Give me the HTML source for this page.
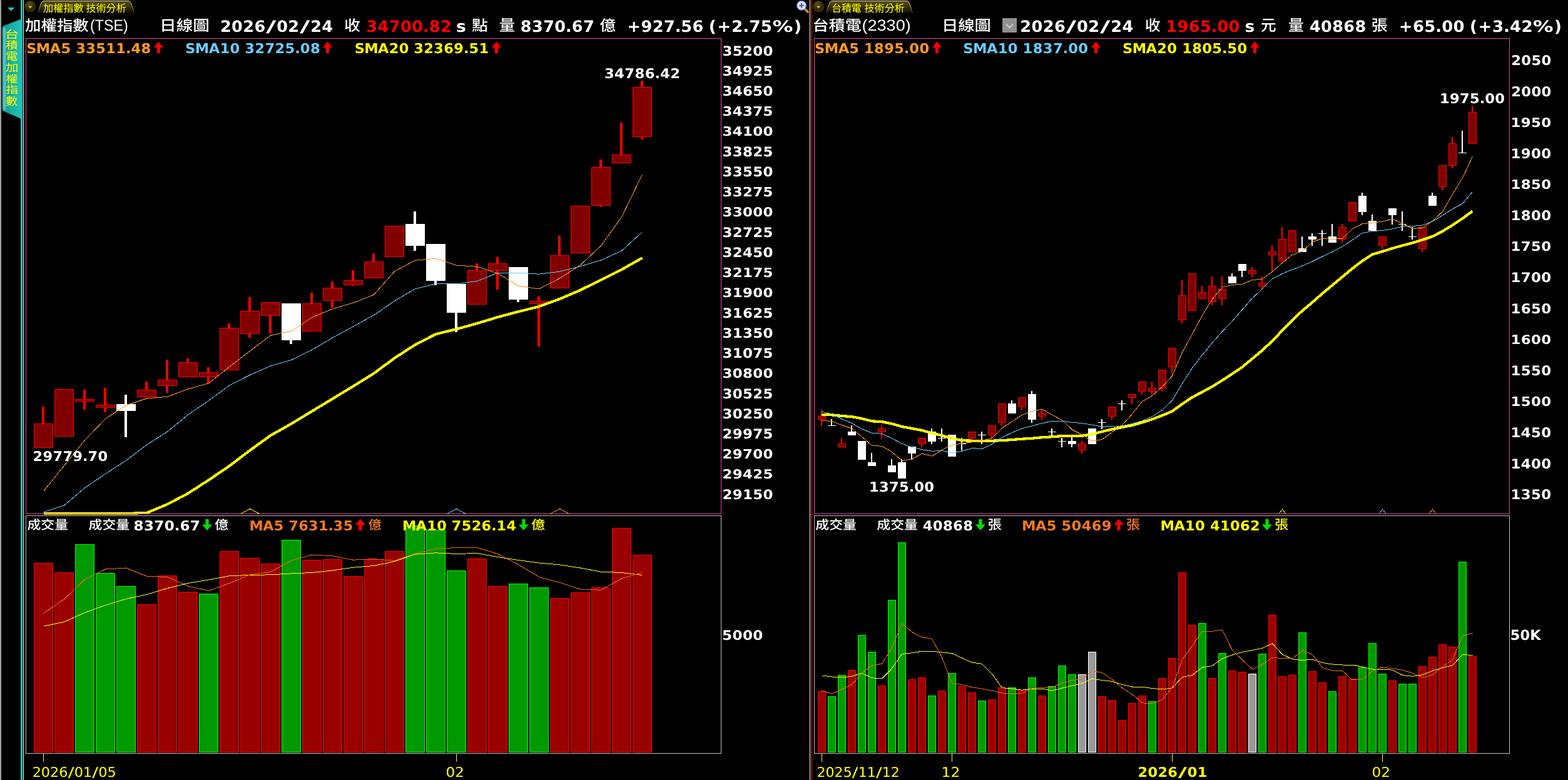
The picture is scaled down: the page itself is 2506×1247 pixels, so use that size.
<!DOCTYPE html>
<html lang="zh-Hant"><head><meta charset="utf-8"><title>技術分析</title><style>html,body{margin:0;padding:0;background:#000;overflow:hidden}svg{display:block}</style></head><body><svg width="2506" height="1247" viewBox="0 0 2506 1247"><defs><linearGradient id="tabg" x1="0" y1="0" x2="0" y2="1"><stop offset="0" stop-color="#5a5200"/><stop offset="0.45" stop-color="#3c3700"/><stop offset="1" stop-color="#0a0900"/></linearGradient><linearGradient id="tabs" x1="0" y1="0" x2="0" y2="1"><stop offset="0" stop-color="#d8d8d8"/><stop offset="0.5" stop-color="#a0a0a0"/><stop offset="1" stop-color="#303030"/></linearGradient><radialGradient id="btng" cx="0.4" cy="0.3" r="0.8"><stop offset="0" stop-color="#5a5210"/><stop offset="0.6" stop-color="#2c2800"/><stop offset="1" stop-color="#3a3400"/></radialGradient><linearGradient id="sideg" x1="0" y1="0" x2="1" y2="0"><stop offset="0" stop-color="#139890"/><stop offset="0.5" stop-color="#1aaea6"/><stop offset="1" stop-color="#20c0b8"/></linearGradient><clipPath id="cl0"><rect x="42" y="62" width="1110" height="760"/></clipPath><clipPath id="cl1260"><rect x="1302" y="62" width="1110" height="760"/></clipPath></defs><rect width="100%" height="100%" fill="#000"/><g shape-rendering="crispEdges"><rect x="67" y="650" width="4" height="66" fill="#ff0000"/><rect x="54" y="677" width="31" height="39" fill="#ff0000"/><rect x="55" y="678" width="29" height="37" fill="#800000"/><rect x="100" y="622" width="4" height="76" fill="#ff0000"/><rect x="87" y="622" width="31" height="76" fill="#ff0000"/><rect x="88" y="623" width="29" height="74" fill="#800000"/><rect x="133" y="623" width="4" height="32" fill="#ff0000"/><rect x="120" y="638" width="31" height="4" fill="#ff0000"/><rect x="121" y="639" width="29" height="2" fill="#800000"/><rect x="166" y="620" width="4" height="39" fill="#ff0000"/><rect x="153" y="647" width="31" height="5" fill="#ff0000"/><rect x="154" y="648" width="29" height="3" fill="#800000"/><rect x="199" y="631" width="4" height="68" fill="#ffffff"/><rect x="186" y="646" width="31" height="11" fill="#ffffff"/><rect x="232" y="610" width="4" height="25" fill="#ff0000"/><rect x="219" y="623" width="31" height="12" fill="#ff0000"/><rect x="220" y="624" width="29" height="10" fill="#800000"/><rect x="265" y="575" width="4" height="53" fill="#ff0000"/><rect x="252" y="607" width="31" height="10" fill="#ff0000"/><rect x="253" y="608" width="29" height="8" fill="#800000"/><rect x="298" y="573" width="4" height="30" fill="#ff0000"/><rect x="285" y="579" width="31" height="24" fill="#ff0000"/><rect x="286" y="580" width="29" height="22" fill="#800000"/><rect x="331" y="587" width="4" height="26" fill="#ff0000"/><rect x="318" y="595" width="31" height="8" fill="#ff0000"/><rect x="319" y="596" width="29" height="6" fill="#800000"/><rect x="364" y="517" width="4" height="75" fill="#ff0000"/><rect x="351" y="524" width="31" height="68" fill="#ff0000"/><rect x="352" y="525" width="29" height="66" fill="#800000"/><rect x="397" y="475" width="4" height="65" fill="#ff0000"/><rect x="384" y="497" width="31" height="37" fill="#ff0000"/><rect x="385" y="498" width="29" height="35" fill="#800000"/><rect x="430" y="483" width="4" height="50" fill="#ff0000"/><rect x="417" y="483" width="31" height="22" fill="#ff0000"/><rect x="418" y="484" width="29" height="20" fill="#800000"/><rect x="463" y="485" width="4" height="65" fill="#ffffff"/><rect x="450" y="485" width="31" height="59" fill="#ffffff"/><rect x="496" y="468" width="4" height="62" fill="#ff0000"/><rect x="483" y="485" width="31" height="45" fill="#ff0000"/><rect x="484" y="486" width="29" height="43" fill="#800000"/><rect x="529" y="450" width="4" height="42" fill="#ff0000"/><rect x="516" y="460" width="31" height="21" fill="#ff0000"/><rect x="517" y="461" width="29" height="19" fill="#800000"/><rect x="562" y="432" width="4" height="25" fill="#ff0000"/><rect x="549" y="448" width="31" height="8" fill="#ff0000"/><rect x="550" y="449" width="29" height="6" fill="#800000"/><rect x="595" y="405" width="4" height="40" fill="#ff0000"/><rect x="582" y="418" width="31" height="27" fill="#ff0000"/><rect x="583" y="419" width="29" height="25" fill="#800000"/><rect x="628" y="361" width="4" height="50" fill="#ff0000"/><rect x="615" y="361" width="31" height="50" fill="#ff0000"/><rect x="616" y="362" width="29" height="48" fill="#800000"/><rect x="661" y="338" width="4" height="63" fill="#ffffff"/><rect x="648" y="358" width="31" height="35" fill="#ffffff"/><rect x="694" y="390" width="4" height="66" fill="#ffffff"/><rect x="681" y="390" width="31" height="59" fill="#ffffff"/><rect x="727" y="454" width="4" height="77" fill="#ffffff"/><rect x="714" y="454" width="31" height="46" fill="#ffffff"/><rect x="760" y="421" width="4" height="66" fill="#ff0000"/><rect x="747" y="432" width="31" height="55" fill="#ff0000"/><rect x="748" y="433" width="29" height="53" fill="#800000"/><rect x="793" y="411" width="4" height="52" fill="#ff0000"/><rect x="780" y="421" width="31" height="12" fill="#ff0000"/><rect x="781" y="422" width="29" height="10" fill="#800000"/><rect x="826" y="427" width="4" height="56" fill="#ffffff"/><rect x="813" y="427" width="31" height="52" fill="#ffffff"/><rect x="859" y="474" width="4" height="80" fill="#ff0000"/><rect x="846" y="481" width="31" height="5" fill="#ff0000"/><rect x="847" y="482" width="29" height="3" fill="#800000"/><rect x="892" y="377" width="4" height="84" fill="#ff0000"/><rect x="879" y="408" width="31" height="53" fill="#ff0000"/><rect x="880" y="409" width="29" height="51" fill="#800000"/><rect x="925" y="329" width="4" height="76" fill="#ff0000"/><rect x="912" y="329" width="31" height="76" fill="#ff0000"/><rect x="913" y="330" width="29" height="74" fill="#800000"/><rect x="958" y="255" width="4" height="76" fill="#ff0000"/><rect x="945" y="267" width="31" height="62" fill="#ff0000"/><rect x="946" y="268" width="29" height="60" fill="#800000"/><rect x="991" y="196" width="4" height="65" fill="#ff0000"/><rect x="978" y="247" width="31" height="14" fill="#ff0000"/><rect x="979" y="248" width="29" height="12" fill="#800000"/><rect x="1024" y="129" width="4" height="94" fill="#ff0000"/><rect x="1011" y="139" width="31" height="80" fill="#ff0000"/><rect x="1012" y="140" width="29" height="78" fill="#800000"/><rect x="54" y="900" width="31" height="303" fill="#ff0000"/><rect x="55" y="901" width="29" height="301" fill="#990000"/><rect x="87" y="915" width="31" height="288" fill="#ff0000"/><rect x="88" y="916" width="29" height="286" fill="#990000"/><rect x="120" y="870" width="31" height="333" fill="#00ff00"/><rect x="121" y="871" width="29" height="331" fill="#009900"/><rect x="153" y="916" width="31" height="287" fill="#00ff00"/><rect x="154" y="917" width="29" height="285" fill="#009900"/><rect x="186" y="937" width="31" height="266" fill="#00ff00"/><rect x="187" y="938" width="29" height="264" fill="#009900"/><rect x="219" y="966" width="31" height="237" fill="#ff0000"/><rect x="220" y="967" width="29" height="235" fill="#990000"/><rect x="252" y="920" width="31" height="283" fill="#ff0000"/><rect x="253" y="921" width="29" height="281" fill="#990000"/><rect x="285" y="946" width="31" height="257" fill="#ff0000"/><rect x="286" y="947" width="29" height="255" fill="#990000"/><rect x="318" y="949" width="31" height="254" fill="#00ff00"/><rect x="319" y="950" width="29" height="252" fill="#009900"/><rect x="351" y="881" width="31" height="322" fill="#ff0000"/><rect x="352" y="882" width="29" height="320" fill="#990000"/><rect x="384" y="892" width="31" height="311" fill="#ff0000"/><rect x="385" y="893" width="29" height="309" fill="#990000"/><rect x="417" y="901" width="31" height="302" fill="#ff0000"/><rect x="418" y="902" width="29" height="300" fill="#990000"/><rect x="450" y="863" width="31" height="340" fill="#00ff00"/><rect x="451" y="864" width="29" height="338" fill="#009900"/><rect x="483" y="895" width="31" height="308" fill="#ff0000"/><rect x="484" y="896" width="29" height="306" fill="#990000"/><rect x="516" y="894" width="31" height="309" fill="#ff0000"/><rect x="517" y="895" width="29" height="307" fill="#990000"/><rect x="549" y="921" width="31" height="282" fill="#ff0000"/><rect x="550" y="922" width="29" height="280" fill="#990000"/><rect x="582" y="894" width="31" height="309" fill="#ff0000"/><rect x="583" y="895" width="29" height="307" fill="#990000"/><rect x="615" y="881" width="31" height="322" fill="#ff0000"/><rect x="616" y="882" width="29" height="320" fill="#990000"/><rect x="648" y="840" width="31" height="363" fill="#00ff00"/><rect x="649" y="841" width="29" height="361" fill="#009900"/><rect x="681" y="847" width="31" height="356" fill="#00ff00"/><rect x="682" y="848" width="29" height="354" fill="#009900"/><rect x="714" y="912" width="31" height="291" fill="#00ff00"/><rect x="715" y="913" width="29" height="289" fill="#009900"/><rect x="747" y="893" width="31" height="310" fill="#ff0000"/><rect x="748" y="894" width="29" height="308" fill="#990000"/><rect x="780" y="937" width="31" height="266" fill="#ff0000"/><rect x="781" y="938" width="29" height="264" fill="#990000"/><rect x="813" y="933" width="31" height="270" fill="#00ff00"/><rect x="814" y="934" width="29" height="268" fill="#009900"/><rect x="846" y="939" width="31" height="264" fill="#00ff00"/><rect x="847" y="940" width="29" height="262" fill="#009900"/><rect x="879" y="956" width="31" height="247" fill="#ff0000"/><rect x="880" y="957" width="29" height="245" fill="#990000"/><rect x="912" y="947" width="31" height="256" fill="#ff0000"/><rect x="913" y="948" width="29" height="254" fill="#990000"/><rect x="945" y="939" width="31" height="264" fill="#ff0000"/><rect x="946" y="940" width="29" height="262" fill="#990000"/><rect x="978" y="844" width="31" height="359" fill="#ff0000"/><rect x="979" y="845" width="29" height="357" fill="#990000"/><rect x="1011" y="887" width="31" height="316" fill="#ff0000"/><rect x="1012" y="888" width="29" height="314" fill="#990000"/><rect x="1312" y="655" width="2" height="26" fill="#ff0000"/><rect x="1307" y="665" width="13" height="6" fill="#ff0000"/><rect x="1308" y="666" width="11" height="4" fill="#800000"/><rect x="1328" y="670" width="2" height="11" fill="#ffffff"/><rect x="1323" y="680" width="13" height="1" fill="#ffffff"/><rect x="1344" y="700" width="2" height="15" fill="#ff0000"/><rect x="1339" y="709" width="13" height="6" fill="#ff0000"/><rect x="1340" y="710" width="11" height="4" fill="#800000"/><rect x="1360" y="680" width="2" height="16" fill="#ffffff"/><rect x="1355" y="690" width="13" height="6" fill="#ffffff"/><rect x="1376" y="705" width="2" height="30" fill="#ffffff"/><rect x="1371" y="705" width="13" height="30" fill="#ffffff"/><rect x="1392" y="724" width="2" height="21" fill="#ffffff"/><rect x="1387" y="739" width="13" height="6" fill="#ffffff"/><rect x="1408" y="680" width="2" height="21" fill="#ff0000"/><rect x="1403" y="685" width="13" height="6" fill="#ff0000"/><rect x="1404" y="686" width="11" height="4" fill="#800000"/><rect x="1424" y="734" width="2" height="21" fill="#ffffff"/><rect x="1419" y="744" width="13" height="11" fill="#ffffff"/><rect x="1440" y="734" width="2" height="31" fill="#ffffff"/><rect x="1435" y="739" width="13" height="26" fill="#ffffff"/><rect x="1456" y="714" width="2" height="20" fill="#ffffff"/><rect x="1451" y="714" width="13" height="11" fill="#ffffff"/><rect x="1472" y="700" width="2" height="15" fill="#ff0000"/><rect x="1467" y="700" width="13" height="10" fill="#ff0000"/><rect x="1468" y="701" width="11" height="8" fill="#800000"/><rect x="1488" y="685" width="2" height="25" fill="#ffffff"/><rect x="1483" y="690" width="13" height="16" fill="#ffffff"/><rect x="1504" y="685" width="2" height="21" fill="#ffffff"/><rect x="1499" y="700" width="13" height="1" fill="#ffffff"/><rect x="1520" y="695" width="2" height="35" fill="#ffffff"/><rect x="1515" y="695" width="13" height="35" fill="#ffffff"/><rect x="1536" y="700" width="2" height="20" fill="#ffffff"/><rect x="1531" y="709" width="13" height="1" fill="#ffffff"/><rect x="1552" y="690" width="2" height="13" fill="#ff0000"/><rect x="1547" y="690" width="13" height="11" fill="#ff0000"/><rect x="1548" y="691" width="11" height="9" fill="#800000"/><rect x="1568" y="690" width="2" height="20" fill="#ffffff"/><rect x="1563" y="695" width="13" height="1" fill="#ffffff"/><rect x="1584" y="680" width="2" height="21" fill="#ff0000"/><rect x="1579" y="680" width="13" height="16" fill="#ff0000"/><rect x="1580" y="681" width="11" height="14" fill="#800000"/><rect x="1600" y="645" width="2" height="36" fill="#ff0000"/><rect x="1595" y="645" width="13" height="31" fill="#ff0000"/><rect x="1596" y="646" width="11" height="29" fill="#800000"/><rect x="1616" y="640" width="2" height="21" fill="#ffffff"/><rect x="1611" y="645" width="13" height="16" fill="#ffffff"/><rect x="1632" y="635" width="2" height="21" fill="#ff0000"/><rect x="1627" y="635" width="13" height="16" fill="#ff0000"/><rect x="1628" y="636" width="11" height="14" fill="#800000"/><rect x="1648" y="625" width="2" height="51" fill="#ffffff"/><rect x="1643" y="630" width="13" height="41" fill="#ffffff"/><rect x="1664" y="655" width="2" height="16" fill="#ff0000"/><rect x="1659" y="660" width="13" height="6" fill="#ff0000"/><rect x="1660" y="661" width="11" height="4" fill="#800000"/><rect x="1680" y="685" width="2" height="11" fill="#ffffff"/><rect x="1675" y="690" width="13" height="1" fill="#ffffff"/><rect x="1696" y="700" width="2" height="15" fill="#ffffff"/><rect x="1691" y="705" width="13" height="1" fill="#ffffff"/><rect x="1712" y="698" width="2" height="17" fill="#ffffff"/><rect x="1707" y="705" width="13" height="5" fill="#ffffff"/><rect x="1728" y="705" width="2" height="20" fill="#ff0000"/><rect x="1723" y="709" width="13" height="11" fill="#ff0000"/><rect x="1724" y="710" width="11" height="9" fill="#800000"/><rect x="1744" y="685" width="2" height="25" fill="#ffffff"/><rect x="1739" y="685" width="13" height="25" fill="#ffffff"/><rect x="1760" y="670" width="2" height="16" fill="#ffffff"/><rect x="1755" y="675" width="13" height="1" fill="#ffffff"/><rect x="1776" y="650" width="2" height="21" fill="#ff0000"/><rect x="1771" y="650" width="13" height="16" fill="#ff0000"/><rect x="1772" y="651" width="11" height="14" fill="#800000"/><rect x="1792" y="640" width="2" height="16" fill="#ffffff"/><rect x="1787" y="645" width="13" height="1" fill="#ffffff"/><rect x="1808" y="630" width="2" height="16" fill="#ff0000"/><rect x="1803" y="630" width="13" height="6" fill="#ff0000"/><rect x="1804" y="631" width="11" height="4" fill="#800000"/><rect x="1824" y="610" width="2" height="21" fill="#ff0000"/><rect x="1819" y="610" width="13" height="16" fill="#ff0000"/><rect x="1820" y="611" width="11" height="14" fill="#800000"/><rect x="1840" y="610" width="2" height="21" fill="#ff0000"/><rect x="1835" y="620" width="13" height="6" fill="#ff0000"/><rect x="1836" y="621" width="11" height="4" fill="#800000"/><rect x="1856" y="591" width="2" height="35" fill="#ff0000"/><rect x="1851" y="591" width="13" height="30" fill="#ff0000"/><rect x="1852" y="592" width="11" height="28" fill="#800000"/><rect x="1872" y="556" width="2" height="41" fill="#ff0000"/><rect x="1867" y="556" width="13" height="31" fill="#ff0000"/><rect x="1868" y="557" width="11" height="29" fill="#800000"/><rect x="1888" y="447" width="2" height="70" fill="#ff0000"/><rect x="1883" y="472" width="13" height="40" fill="#ff0000"/><rect x="1884" y="473" width="11" height="38" fill="#800000"/><rect x="1904" y="437" width="2" height="60" fill="#ff0000"/><rect x="1899" y="437" width="13" height="60" fill="#ff0000"/><rect x="1900" y="438" width="11" height="58" fill="#800000"/><rect x="1920" y="457" width="2" height="21" fill="#ff0000"/><rect x="1915" y="467" width="13" height="11" fill="#ff0000"/><rect x="1916" y="468" width="11" height="9" fill="#800000"/><rect x="1936" y="442" width="2" height="46" fill="#ff0000"/><rect x="1931" y="457" width="13" height="26" fill="#ff0000"/><rect x="1932" y="458" width="11" height="24" fill="#800000"/><rect x="1952" y="442" width="2" height="46" fill="#ff0000"/><rect x="1947" y="462" width="13" height="16" fill="#ff0000"/><rect x="1948" y="463" width="11" height="14" fill="#800000"/><rect x="1968" y="437" width="2" height="16" fill="#ffffff"/><rect x="1963" y="442" width="13" height="11" fill="#ffffff"/><rect x="1984" y="422" width="2" height="21" fill="#ffffff"/><rect x="1979" y="422" width="13" height="11" fill="#ffffff"/><rect x="2000" y="427" width="2" height="16" fill="#ff0000"/><rect x="1995" y="432" width="13" height="6" fill="#ff0000"/><rect x="1996" y="433" width="11" height="4" fill="#800000"/><rect x="2016" y="442" width="2" height="21" fill="#ff0000"/><rect x="2011" y="452" width="13" height="6" fill="#ff0000"/><rect x="2012" y="453" width="11" height="4" fill="#800000"/><rect x="2032" y="392" width="2" height="41" fill="#ff0000"/><rect x="2027" y="402" width="13" height="6" fill="#ff0000"/><rect x="2028" y="403" width="11" height="4" fill="#800000"/><rect x="2048" y="363" width="2" height="55" fill="#ff0000"/><rect x="2043" y="382" width="13" height="36" fill="#ff0000"/><rect x="2044" y="383" width="11" height="34" fill="#800000"/><rect x="2064" y="368" width="2" height="35" fill="#ff0000"/><rect x="2059" y="368" width="13" height="35" fill="#ff0000"/><rect x="2060" y="369" width="11" height="33" fill="#800000"/><rect x="2080" y="378" width="2" height="25" fill="#ffffff"/><rect x="2075" y="397" width="13" height="6" fill="#ffffff"/><rect x="2096" y="373" width="2" height="20" fill="#ffffff"/><rect x="2091" y="378" width="13" height="5" fill="#ffffff"/><rect x="2112" y="368" width="2" height="25" fill="#ffffff"/><rect x="2107" y="373" width="13" height="1" fill="#ffffff"/><rect x="2128" y="358" width="2" height="30" fill="#ffffff"/><rect x="2123" y="378" width="13" height="10" fill="#ffffff"/><rect x="2144" y="358" width="2" height="30" fill="#ff0000"/><rect x="2139" y="363" width="13" height="20" fill="#ff0000"/><rect x="2140" y="364" width="11" height="18" fill="#800000"/><rect x="2160" y="323" width="2" height="31" fill="#ff0000"/><rect x="2155" y="323" width="13" height="31" fill="#ff0000"/><rect x="2156" y="324" width="11" height="29" fill="#800000"/><rect x="2176" y="308" width="2" height="36" fill="#ffffff"/><rect x="2171" y="313" width="13" height="26" fill="#ffffff"/><rect x="2192" y="343" width="2" height="26" fill="#ffffff"/><rect x="2187" y="353" width="13" height="16" fill="#ffffff"/><rect x="2208" y="378" width="2" height="20" fill="#ff0000"/><rect x="2203" y="378" width="13" height="15" fill="#ff0000"/><rect x="2204" y="379" width="11" height="13" fill="#800000"/><rect x="2224" y="333" width="2" height="26" fill="#ffffff"/><rect x="2219" y="333" width="13" height="11" fill="#ffffff"/><rect x="2240" y="338" width="2" height="31" fill="#ffffff"/><rect x="2235" y="358" width="13" height="1" fill="#ffffff"/><rect x="2256" y="363" width="2" height="20" fill="#ffffff"/><rect x="2251" y="378" width="13" height="1" fill="#ffffff"/><rect x="2272" y="363" width="2" height="40" fill="#ff0000"/><rect x="2267" y="363" width="13" height="35" fill="#ff0000"/><rect x="2268" y="364" width="11" height="33" fill="#800000"/><rect x="2288" y="308" width="2" height="21" fill="#ffffff"/><rect x="2283" y="313" width="13" height="16" fill="#ffffff"/><rect x="2304" y="264" width="2" height="40" fill="#ff0000"/><rect x="2299" y="264" width="13" height="35" fill="#ff0000"/><rect x="2300" y="265" width="11" height="33" fill="#800000"/><rect x="2320" y="219" width="2" height="50" fill="#ff0000"/><rect x="2315" y="229" width="13" height="36" fill="#ff0000"/><rect x="2316" y="230" width="11" height="34" fill="#800000"/><rect x="2336" y="209" width="2" height="36" fill="#ffffff"/><rect x="2331" y="244" width="13" height="1" fill="#ffffff"/><rect x="2352" y="169" width="2" height="61" fill="#ff0000"/><rect x="2347" y="179" width="13" height="51" fill="#ff0000"/><rect x="2348" y="180" width="11" height="49" fill="#800000"/><rect x="1307" y="1105" width="13" height="98" fill="#ff0000"/><rect x="1308" y="1106" width="11" height="96" fill="#990000"/><rect x="1323" y="1113" width="13" height="90" fill="#00ff00"/><rect x="1324" y="1114" width="11" height="88" fill="#009900"/><rect x="1339" y="1079" width="13" height="124" fill="#00ff00"/><rect x="1340" y="1080" width="11" height="122" fill="#009900"/><rect x="1355" y="1071" width="13" height="132" fill="#ff0000"/><rect x="1356" y="1072" width="11" height="130" fill="#990000"/><rect x="1371" y="1015" width="13" height="188" fill="#00ff00"/><rect x="1372" y="1016" width="11" height="186" fill="#009900"/><rect x="1387" y="1042" width="13" height="161" fill="#00ff00"/><rect x="1388" y="1043" width="11" height="159" fill="#009900"/><rect x="1403" y="1096" width="13" height="107" fill="#ff0000"/><rect x="1404" y="1097" width="11" height="105" fill="#990000"/><rect x="1419" y="959" width="13" height="244" fill="#00ff00"/><rect x="1420" y="960" width="11" height="242" fill="#009900"/><rect x="1435" y="867" width="13" height="336" fill="#00ff00"/><rect x="1436" y="868" width="11" height="334" fill="#009900"/><rect x="1451" y="1086" width="13" height="117" fill="#ff0000"/><rect x="1452" y="1087" width="11" height="115" fill="#990000"/><rect x="1467" y="1083" width="13" height="120" fill="#ff0000"/><rect x="1468" y="1084" width="11" height="118" fill="#990000"/><rect x="1483" y="1112" width="13" height="91" fill="#00ff00"/><rect x="1484" y="1113" width="11" height="89" fill="#009900"/><rect x="1499" y="1104" width="13" height="99" fill="#ff0000"/><rect x="1500" y="1105" width="11" height="97" fill="#990000"/><rect x="1515" y="1076" width="13" height="127" fill="#00ff00"/><rect x="1516" y="1077" width="11" height="125" fill="#009900"/><rect x="1531" y="1097" width="13" height="106" fill="#ff0000"/><rect x="1532" y="1098" width="11" height="104" fill="#990000"/><rect x="1547" y="1107" width="13" height="96" fill="#ff0000"/><rect x="1548" y="1108" width="11" height="94" fill="#990000"/><rect x="1563" y="1120" width="13" height="83" fill="#00ff00"/><rect x="1564" y="1121" width="11" height="81" fill="#009900"/><rect x="1579" y="1118" width="13" height="85" fill="#ff0000"/><rect x="1580" y="1119" width="11" height="83" fill="#990000"/><rect x="1595" y="1099" width="13" height="104" fill="#ff0000"/><rect x="1596" y="1100" width="11" height="102" fill="#990000"/><rect x="1611" y="1099" width="13" height="104" fill="#00ff00"/><rect x="1612" y="1100" width="11" height="102" fill="#009900"/><rect x="1627" y="1103" width="13" height="100" fill="#ff0000"/><rect x="1628" y="1104" width="11" height="98" fill="#990000"/><rect x="1643" y="1083" width="13" height="120" fill="#00ff00"/><rect x="1644" y="1084" width="11" height="118" fill="#009900"/><rect x="1659" y="1112" width="13" height="91" fill="#ff0000"/><rect x="1660" y="1113" width="11" height="89" fill="#990000"/><rect x="1675" y="1097" width="13" height="106" fill="#00ff00"/><rect x="1676" y="1098" width="11" height="104" fill="#009900"/><rect x="1691" y="1064" width="13" height="139" fill="#00ff00"/><rect x="1692" y="1065" width="11" height="137" fill="#009900"/><rect x="1707" y="1078" width="13" height="125" fill="#00ff00"/><rect x="1708" y="1079" width="11" height="123" fill="#009900"/><rect x="1723" y="1078" width="13" height="125" fill="#ffffff"/><rect x="1724" y="1079" width="11" height="123" fill="#999999"/><rect x="1739" y="1042" width="13" height="161" fill="#ffffff"/><rect x="1740" y="1043" width="11" height="159" fill="#999999"/><rect x="1755" y="1113" width="13" height="90" fill="#ff0000"/><rect x="1756" y="1114" width="11" height="88" fill="#990000"/><rect x="1771" y="1119" width="13" height="84" fill="#ff0000"/><rect x="1772" y="1120" width="11" height="82" fill="#990000"/><rect x="1787" y="1151" width="13" height="52" fill="#ff0000"/><rect x="1788" y="1152" width="11" height="50" fill="#990000"/><rect x="1803" y="1124" width="13" height="79" fill="#ff0000"/><rect x="1804" y="1125" width="11" height="77" fill="#990000"/><rect x="1819" y="1112" width="13" height="91" fill="#ff0000"/><rect x="1820" y="1113" width="11" height="89" fill="#990000"/><rect x="1835" y="1121" width="13" height="82" fill="#00ff00"/><rect x="1836" y="1122" width="11" height="80" fill="#009900"/><rect x="1851" y="1084" width="13" height="119" fill="#ff0000"/><rect x="1852" y="1085" width="11" height="117" fill="#990000"/><rect x="1867" y="1052" width="13" height="151" fill="#ff0000"/><rect x="1868" y="1053" width="11" height="149" fill="#990000"/><rect x="1883" y="915" width="13" height="288" fill="#ff0000"/><rect x="1884" y="916" width="11" height="286" fill="#990000"/><rect x="1899" y="999" width="13" height="204" fill="#ff0000"/><rect x="1900" y="1000" width="11" height="202" fill="#990000"/><rect x="1915" y="996" width="13" height="207" fill="#00ff00"/><rect x="1916" y="997" width="11" height="205" fill="#009900"/><rect x="1931" y="1084" width="13" height="119" fill="#ff0000"/><rect x="1932" y="1085" width="11" height="117" fill="#990000"/><rect x="1947" y="1044" width="13" height="159" fill="#00ff00"/><rect x="1948" y="1045" width="11" height="157" fill="#009900"/><rect x="1963" y="1072" width="13" height="131" fill="#ff0000"/><rect x="1964" y="1073" width="11" height="129" fill="#990000"/><rect x="1979" y="1074" width="13" height="129" fill="#ff0000"/><rect x="1980" y="1075" width="11" height="127" fill="#990000"/><rect x="1995" y="1077" width="13" height="126" fill="#ffffff"/><rect x="1996" y="1078" width="11" height="124" fill="#999999"/><rect x="2011" y="1045" width="13" height="158" fill="#00ff00"/><rect x="2012" y="1046" width="11" height="156" fill="#009900"/><rect x="2027" y="983" width="13" height="220" fill="#ff0000"/><rect x="2028" y="984" width="11" height="218" fill="#990000"/><rect x="2043" y="1081" width="13" height="122" fill="#ff0000"/><rect x="2044" y="1082" width="11" height="120" fill="#990000"/><rect x="2059" y="1079" width="13" height="124" fill="#ff0000"/><rect x="2060" y="1080" width="11" height="122" fill="#990000"/><rect x="2075" y="1011" width="13" height="192" fill="#00ff00"/><rect x="2076" y="1012" width="11" height="190" fill="#009900"/><rect x="2091" y="1073" width="13" height="130" fill="#ff0000"/><rect x="2092" y="1074" width="11" height="128" fill="#990000"/><rect x="2107" y="1091" width="13" height="112" fill="#ff0000"/><rect x="2108" y="1092" width="11" height="110" fill="#990000"/><rect x="2123" y="1105" width="13" height="98" fill="#00ff00"/><rect x="2124" y="1106" width="11" height="96" fill="#009900"/><rect x="2139" y="1081" width="13" height="122" fill="#ff0000"/><rect x="2140" y="1082" width="11" height="120" fill="#990000"/><rect x="2155" y="1085" width="13" height="118" fill="#ff0000"/><rect x="2156" y="1086" width="11" height="116" fill="#990000"/><rect x="2171" y="1067" width="13" height="136" fill="#00ff00"/><rect x="2172" y="1068" width="11" height="134" fill="#009900"/><rect x="2187" y="1028" width="13" height="175" fill="#00ff00"/><rect x="2188" y="1029" width="11" height="173" fill="#009900"/><rect x="2203" y="1077" width="13" height="126" fill="#00ff00"/><rect x="2204" y="1078" width="11" height="124" fill="#009900"/><rect x="2219" y="1088" width="13" height="115" fill="#ff0000"/><rect x="2220" y="1089" width="11" height="113" fill="#990000"/><rect x="2235" y="1093" width="13" height="110" fill="#00ff00"/><rect x="2236" y="1094" width="11" height="108" fill="#009900"/><rect x="2251" y="1093" width="13" height="110" fill="#00ff00"/><rect x="2252" y="1094" width="11" height="108" fill="#009900"/><rect x="2267" y="1065" width="13" height="138" fill="#ff0000"/><rect x="2268" y="1066" width="11" height="136" fill="#990000"/><rect x="2283" y="1050" width="13" height="153" fill="#ff0000"/><rect x="2284" y="1051" width="11" height="151" fill="#990000"/><rect x="2299" y="1030" width="13" height="173" fill="#ff0000"/><rect x="2300" y="1031" width="11" height="171" fill="#990000"/><rect x="2315" y="1034" width="13" height="169" fill="#ff0000"/><rect x="2316" y="1035" width="11" height="167" fill="#990000"/><rect x="2331" y="898" width="13" height="305" fill="#00ff00"/><rect x="2332" y="899" width="11" height="303" fill="#009900"/><rect x="2347" y="1049" width="13" height="154" fill="#ff0000"/><rect x="2348" y="1050" width="11" height="152" fill="#990000"/><rect x="69" y="1205" width="1" height="13" fill="#ffff00"/><rect x="729" y="1205" width="1" height="13" fill="#ffff00"/><rect x="1313" y="1205" width="1" height="13" fill="#ffff00"/><rect x="1521" y="1205" width="1" height="13" fill="#ffff00"/><rect x="1873" y="1205" width="1" height="13" fill="#ffff00"/><rect x="2209" y="1205" width="1" height="13" fill="#ffff00"/><rect x="0" y="0" width="2" height="1247" fill="#a0a0a0"/><rect x="33" y="0" width="3" height="1247" fill="#1fc0b8"/><rect x="37" y="0" width="1" height="1247" fill="#ffffff"/><rect x="1294" y="0" width="1" height="1247" fill="#ffffff"/><rect x="1297" y="0" width="1" height="1247" fill="#ff0000"/></g><g></g><g shape-rendering="crispEdges"><polyline points="69.5,821.0 102.5,821.0 135.5,821.0 168.5,821.0 201.5,821.0 234.5,820.0 267.5,806.2 300.5,788.8 333.5,767.5 366.5,745.0 399.5,720.0 432.5,696.2 465.5,677.5 498.5,657.5 531.5,637.5 564.5,617.5 597.5,597.0 630.5,572.5 663.5,551.2 696.5,534.2 729.5,526.2 762.5,517.0 795.5,507.0 828.5,498.2 861.5,490.0 894.5,478.0 927.5,463.8 960.5,447.5 993.5,431.0 1026.5,412.3" fill="none" stroke="#ffff00" stroke-width="4.2" stroke-linejoin="round"/><polyline points="69.5,818.8 102.5,808.0 135.5,780.0 168.5,757.5 201.5,736.2 234.5,711.2 267.5,690.0 300.5,663.0 333.5,640.5 366.5,616.2 399.5,599.5 432.5,585.0 465.5,575.5 498.5,559.5 531.5,540.0 564.5,522.0 597.5,503.8 630.5,481.2 663.5,461.8 696.5,453.8 729.5,453.8 762.5,449.5 795.5,436.2 828.5,436.2 861.5,438.2 894.5,434.2 927.5,425.8 960.5,416.0 993.5,401.0 1026.5,370.8" fill="none" stroke="#66ccff" stroke-width="1" stroke-linejoin="round"/><polyline points="69.5,785.5 102.5,744.5 135.5,703.8 168.5,669.5 201.5,648.0 234.5,637.0 267.5,634.2 300.5,622.0 333.5,612.8 366.5,586.5 399.5,561.2 432.5,536.2 465.5,529.5 498.5,507.5 531.5,493.8 564.5,484.2 597.5,471.2 630.5,433.8 663.5,416.2 696.5,413.2 729.5,424.2 762.5,426.2 795.5,437.0 828.5,457.0 861.5,462.0 894.5,445.0 927.5,423.8 960.5,393.0 993.5,347.0 1026.5,278.8" fill="none" stroke="#ff9a20" stroke-width="1" stroke-linejoin="round"/><polyline points="69.5,1001.2 102.5,994.2 135.5,979.5 168.5,967.5 201.5,957.5 234.5,950.5 267.5,940.5 300.5,932.5 333.5,927.0 366.5,920.8 399.5,919.5 432.5,918.8 465.5,917.0 498.5,915.5 531.5,912.0 564.5,907.2 597.5,904.5 630.5,897.5 663.5,886.2 696.5,883.8 729.5,885.5 762.5,884.5 795.5,890.5 828.5,895.5 861.5,900.0 894.5,903.0 927.5,908.0 960.5,914.2 993.5,915.5 1026.5,919.5" fill="none" stroke="#ffff00" stroke-width="1" stroke-linejoin="round"/><polyline points="69.5,980.5 102.5,958.0 135.5,926.2 168.5,910.0 201.5,908.0 234.5,921.2 267.5,922.5 300.5,937.0 333.5,944.5 366.5,932.5 399.5,918.8 432.5,914.5 465.5,896.2 498.5,887.0 531.5,888.8 564.5,895.2 597.5,893.5 630.5,896.5 663.5,885.0 696.5,877.5 729.5,875.5 762.5,875.5 795.5,885.5 828.5,902.5 861.5,922.5 894.5,931.2 927.5,942.0 960.5,943.2 993.5,925.0 1026.5,915.5" fill="none" stroke="#f06a20" stroke-width="1" stroke-linejoin="round"/><polyline points="1313.5,663.0 1329.5,663.3 1345.5,665.0 1361.5,666.2 1377.5,669.2 1393.5,673.3 1409.5,674.2 1425.5,677.5 1441.5,682.0 1457.5,685.0 1473.5,688.0 1489.5,692.5 1505.5,696.3 1521.5,700.8 1537.5,704.2 1553.5,704.7 1569.5,705.0 1585.5,704.7 1601.5,704.2 1617.5,703.0 1633.5,701.7 1649.5,700.8 1665.5,699.2 1681.5,698.3 1697.5,697.0 1713.5,696.7 1729.5,696.7 1745.5,694.2 1761.5,690.0 1777.5,686.2 1793.5,683.0 1809.5,680.0 1825.5,675.3 1841.5,670.3 1857.5,664.2 1873.5,657.5 1889.5,645.8 1905.5,635.0 1921.5,626.7 1937.5,618.0 1953.5,608.0 1969.5,597.5 1985.5,586.7 2001.5,573.3 2017.5,560.0 2033.5,545.0 2049.5,528.3 2065.5,511.7 2081.5,496.7 2097.5,483.3 2113.5,469.2 2129.5,455.8 2145.5,442.5 2161.5,429.2 2177.5,417.0 2193.5,406.7 2209.5,402.0 2225.5,397.0 2241.5,392.5 2257.5,388.3 2273.5,383.3 2289.5,378.0 2305.5,369.7 2321.5,360.0 2337.5,349.2 2353.5,337.5" fill="none" stroke="#ffff00" stroke-width="4.2" stroke-linejoin="round"/><polyline points="1313.5,658.3 1329.5,661.7 1345.5,670.0 1361.5,676.7 1377.5,685.8 1393.5,692.2 1409.5,693.3 1425.5,700.8 1441.5,709.2 1457.5,715.0 1473.5,718.7 1489.5,721.3 1505.5,720.3 1521.5,724.2 1537.5,721.3 1553.5,716.7 1569.5,717.5 1585.5,710.0 1601.5,699.2 1617.5,691.7 1633.5,685.0 1649.5,680.8 1665.5,676.7 1681.5,673.3 1697.5,673.3 1713.5,675.3 1729.5,676.7 1745.5,679.2 1761.5,682.2 1777.5,681.7 1793.5,680.8 1809.5,677.5 1825.5,672.8 1841.5,665.8 1857.5,655.3 1873.5,640.0 1889.5,613.3 1905.5,588.3 1921.5,567.5 1937.5,548.0 1953.5,530.0 1969.5,513.3 1985.5,495.0 2001.5,476.7 2017.5,461.7 2033.5,445.8 2049.5,437.5 2065.5,430.8 2081.5,425.0 2097.5,418.0 2113.5,410.0 2129.5,402.5 2145.5,394.2 2161.5,383.7 2177.5,372.5 2193.5,369.6 2209.5,368.5 2225.5,366.0 2241.5,361.7 2257.5,361.5 2273.5,360.0 2289.5,353.8 2305.5,344.2 2321.5,334.2 2337.5,325.3 2353.5,306.7" fill="none" stroke="#66ccff" stroke-width="1" stroke-linejoin="round"/><polyline points="1313.5,672.5 1329.5,673.3 1345.5,679.7 1361.5,685.0 1377.5,698.3 1393.5,712.2 1409.5,713.3 1425.5,722.5 1441.5,736.3 1457.5,734.2 1473.5,725.0 1489.5,729.2 1505.5,719.2 1521.5,711.3 1537.5,709.2 1553.5,706.7 1569.5,704.2 1585.5,700.8 1601.5,684.2 1617.5,674.2 1633.5,663.3 1649.5,657.5 1665.5,654.2 1681.5,663.3 1697.5,671.7 1713.5,687.0 1729.5,695.0 1745.5,705.3 1761.5,702.5 1777.5,690.8 1793.5,679.7 1809.5,661.7 1825.5,641.7 1841.5,632.5 1857.5,618.3 1873.5,600.8 1889.5,563.3 1905.5,534.2 1921.5,504.2 1937.5,478.3 1953.5,459.2 1969.5,455.5 1985.5,454.2 2001.5,447.5 2017.5,446.2 2033.5,434.2 2049.5,420.0 2065.5,407.2 2081.5,401.7 2097.5,386.7 2113.5,381.3 2129.5,382.5 2145.5,381.3 2161.5,365.8 2177.5,357.5 2193.5,356.3 2209.5,354.2 2225.5,350.3 2241.5,357.5 2257.5,365.5 2273.5,364.2 2289.5,353.3 2305.5,338.3 2321.5,310.8 2337.5,284.2 2353.5,250.0" fill="none" stroke="#ff9a20" stroke-width="1" stroke-linejoin="round"/><polyline points="1313.5,1080.0 1329.5,1082.0 1345.5,1083.0 1361.5,1081.2 1377.5,1076.2 1393.5,1083.8 1409.5,1085.0 1425.5,1068.8 1441.5,1045.5 1457.5,1043.8 1473.5,1041.2 1489.5,1041.2 1505.5,1043.0 1521.5,1044.5 1537.5,1052.0 1553.5,1059.2 1569.5,1061.2 1585.5,1077.5 1601.5,1099.5 1617.5,1101.2 1633.5,1103.2 1649.5,1101.2 1665.5,1101.2 1681.5,1104.2 1697.5,1100.0 1713.5,1096.2 1729.5,1092.5 1745.5,1085.0 1761.5,1087.5 1777.5,1089.5 1793.5,1094.5 1809.5,1098.0 1825.5,1098.2 1841.5,1100.5 1857.5,1102.0 1873.5,1100.0 1889.5,1082.5 1905.5,1079.5 1921.5,1067.0 1937.5,1064.5 1953.5,1053.0 1969.5,1047.0 1985.5,1042.5 2001.5,1039.5 2017.5,1036.2 2033.5,1028.8 2049.5,1046.2 2065.5,1053.8 2081.5,1055.5 2097.5,1054.2 2113.5,1059.5 2129.5,1062.0 2145.5,1063.0 2161.5,1063.0 2177.5,1066.2 2193.5,1070.0 2209.5,1070.0 2225.5,1071.2 2241.5,1079.5 2257.5,1081.2 2273.5,1078.8 2289.5,1072.5 2305.5,1067.5 2321.5,1063.8 2337.5,1046.2 2353.5,1048.0" fill="none" stroke="#ffff00" stroke-width="1" stroke-linejoin="round"/><polyline points="1313.5,1104.2 1329.5,1109.2 1345.5,1102.0 1361.5,1094.5 1377.5,1076.2 1393.5,1063.8 1409.5,1061.2 1425.5,1035.5 1441.5,996.8 1457.5,1010.5 1473.5,1018.8 1489.5,1021.2 1505.5,1051.2 1521.5,1092.0 1537.5,1094.5 1553.5,1098.8 1569.5,1101.2 1585.5,1104.2 1601.5,1108.0 1617.5,1109.2 1633.5,1108.0 1649.5,1100.5 1665.5,1099.2 1681.5,1098.8 1697.5,1092.0 1713.5,1087.5 1729.5,1086.2 1745.5,1072.5 1761.5,1075.5 1777.5,1086.2 1793.5,1100.0 1809.5,1110.0 1825.5,1123.8 1841.5,1125.0 1857.5,1118.8 1873.5,1098.8 1889.5,1055.0 1905.5,1032.5 1921.5,1009.2 1937.5,1009.2 1953.5,1007.0 1969.5,1039.5 1985.5,1055.0 2001.5,1070.0 2017.5,1062.5 2033.5,1051.2 2049.5,1052.5 2065.5,1053.0 2081.5,1040.0 2097.5,1046.2 2113.5,1067.5 2129.5,1072.0 2145.5,1072.5 2161.5,1087.0 2177.5,1086.2 2193.5,1072.5 2209.5,1067.0 2225.5,1068.8 2241.5,1071.2 2257.5,1076.2 2273.5,1083.2 2289.5,1078.8 2305.5,1066.2 2321.5,1055.0 2337.5,1016.2 2353.5,1012.0" fill="none" stroke="#f06a20" stroke-width="1" stroke-linejoin="round"/><polyline points="385.5,821 399.5,813.5 413.5,821" fill="none" stroke="#ffff00" stroke-width="1"/><polyline points="715.5,821 729.5,813.5 743.5,821" fill="none" stroke="#66ccff" stroke-width="1"/><polyline points="880.5,821 894.5,813.5 908.5,821" fill="none" stroke="#ff9a20" stroke-width="1"/><polyline points="2044.5,821 2049.5,814 2054.5,821" fill="none" stroke="#ffff00" stroke-width="1"/><polyline points="2204.5,821 2209.5,814 2214.5,821" fill="none" stroke="#66ccff" stroke-width="1"/><polyline points="2284.5,821 2289.5,814 2294.5,821" fill="none" stroke="#ff9a20" stroke-width="1"/></g><g shape-rendering="crispEdges"><rect x="41" y="61" width="1112" height="1" fill="#e8489c"/><rect x="41" y="821" width="1112" height="1" fill="#e8489c"/><rect x="41" y="61" width="1" height="761" fill="#e8489c"/><rect x="1152" y="61" width="1" height="761" fill="#e8489c"/><rect x="41" y="824" width="1112" height="1" fill="#c0c0c0"/><rect x="41" y="1204" width="1112" height="1" fill="#c0c0c0"/><rect x="41" y="824" width="1" height="381" fill="#c0c0c0"/><rect x="1152" y="824" width="1" height="381" fill="#c0c0c0"/><rect x="1301" y="61" width="1112" height="1" fill="#e8489c"/><rect x="1301" y="821" width="1112" height="1" fill="#e8489c"/><rect x="1301" y="61" width="1" height="761" fill="#e8489c"/><rect x="2412" y="61" width="1" height="761" fill="#e8489c"/><rect x="1301" y="824" width="1112" height="1" fill="#c0c0c0"/><rect x="1301" y="1204" width="1112" height="1" fill="#c0c0c0"/><rect x="1301" y="824" width="1" height="381" fill="#c0c0c0"/><rect x="2412" y="824" width="1" height="381" fill="#c0c0c0"/></g><g><path d="M253.5 66.8 l7.7 9.2 h-5.1 v9 h-5.2 v-9 h-5.1 z" fill="#ff0000"/><path d="M523.5 66.8 l7.7 9.2 h-5.1 v9 h-5.2 v-9 h-5.1 z" fill="#ff0000"/><path d="M793.5 66.8 l7.7 9.2 h-5.1 v9 h-5.2 v-9 h-5.1 z" fill="#ff0000"/><path d="M1497.5 66.8 l7.7 9.2 h-5.1 v9 h-5.2 v-9 h-5.1 z" fill="#ff0000"/><path d="M1751.5 66.8 l7.7 9.2 h-5.1 v9 h-5.2 v-9 h-5.1 z" fill="#ff0000"/><path d="M2005.6 66.8 l7.7 9.2 h-5.1 v9 h-5.2 v-9 h-5.1 z" fill="#ff0000"/><path d="M575.9 829.8 l7.7 9.2 h-5.1 v9 h-5.2 v-9 h-5.1 z" fill="#ff0000"/><path d="M1788 829.8 l7.7 9.2 h-5.1 v9 h-5.2 v-9 h-5.1 z" fill="#ff0000"/><path d="M328.5 830 h5.2 v8.4 h5.5 l-8.1 9.6 l-8.1 -9.6 h5.5 z" fill="#00dd00"/><path d="M834.3 830 h5.2 v8.4 h5.5 l-8.1 9.6 l-8.1 -9.6 h5.5 z" fill="#00dd00"/><path d="M1564.4 830 h5.2 v8.4 h5.5 l-8.1 9.6 l-8.1 -9.6 h5.5 z" fill="#00dd00"/><path d="M2022.4 830 h5.2 v8.4 h5.5 l-8.1 9.6 l-8.1 -9.6 h5.5 z" fill="#00dd00"/><path d="M60.5 21 C63.5 14 64.5 3 69.5 1.5 H205.8 C210.8 3 211.8 14 214.8 21 Z" fill="url(#tabg)"/><path d="M60.5 21 C63.5 14 64.5 3 69.5 1.5 H205.8 C210.8 3 211.8 14 214.8 21" fill="none" stroke="url(#tabs)" stroke-width="1"/><circle cx="48.4" cy="10.4" r="9.2" fill="url(#btng)"/><path d="M45.199999999999996 9.8 h6.4 l-3.2 3.6 z" fill="#c8b868"/><path d="M1320.3 21 C1323.3 14 1324.3 3 1329.3 1.5 H1449.6 C1454.6 3 1455.6 14 1458.6 21 Z" fill="url(#tabg)"/><path d="M1320.3 21 C1323.3 14 1324.3 3 1329.3 1.5 H1449.6 C1454.6 3 1455.6 14 1458.6 21" fill="none" stroke="url(#tabs)" stroke-width="1"/><circle cx="1308.2" cy="10.4" r="9.2" fill="url(#btng)"/><path d="M1305.0 9.8 h6.4 l-3.2 3.6 z" fill="#c8b868"/><g><line x1="1286" y1="14" x2="1291.5" y2="19.5" stroke="#e09030" stroke-width="3.2" stroke-linecap="round"/><circle cx="1281" cy="8.8" r="7.3" fill="#d6e4f4" stroke="#8c8ccc" stroke-width="1.2"/><path d="M1277.2 8.9 h7.6 M1281 5.1 v7.6" stroke="#4848a0" stroke-width="1.8" fill="none"/></g><path d="M33 31 L6 41 Q3.3 42 3.3 45 V174 Q3.3 177 6 178 L33 189.5 Z" fill="url(#sideg)"/><rect x="5" y="44" width="4.5" height="132" rx="2.2" fill="#8fdcd6" opacity="0.55"/><path d="M12 12 h11.4 l-5.7 5.8 z" fill="#20c4bc"/><rect x="1602" y="29" width="23" height="23" fill="#909090"/><path d="M1608 38.5 l5.5 5.5 l5.5 -5.5" fill="none" stroke="#c8c8c8" stroke-width="2.4"/></g><g text-rendering="geometricPrecision"><text transform="matrix(1.0143 0 0 1.0150 68.89 18.77)" font-family='"Liberation Sans", "Noto Sans CJK TC", sans-serif' font-weight="400" font-size="16" fill="#ffff00">加權指數</text><text transform="matrix(1.0058 0 0 1.0150 137.43 18.77)" font-family='"Liberation Sans", "Noto Sans CJK TC", sans-serif' font-weight="400" font-size="16" fill="#ffff00">技術分析</text><text transform="matrix(1.0602 0 0 0.9792 40.02 49.31)" font-family='"Liberation Sans", "Noto Sans CJK TC", sans-serif' font-weight="500" font-size="24" fill="#fff">加權指數</text><text transform="matrix(0.9667 0 0 1.0509 144.03 48.67)" font-family='"Liberation Sans", "Noto Sans CJK TC", sans-serif' font-weight="500" font-size="24" fill="#fff">(TSE)</text><text transform="matrix(1.1061 0 0 0.9792 255.08 49.31)" font-family='"Liberation Sans", "Noto Sans CJK TC", sans-serif' font-weight="500" font-size="24" fill="#fff">日線圖</text><g><text x="0.19 17.96 35.74 53.51" transform="matrix(1.0225 0 0 1.0139 351.70 50.75)" font-family='"DejaVu Sans", "Liberation Sans", sans-serif' font-weight="bold" font-size="25" fill="#fff">2026</text><text transform="matrix(1.7895 0 0 1.0139 425.05 50.75)" font-family='"DejaVu Sans", "Liberation Sans", sans-serif' font-weight="bold" font-size="25" fill="#fff">/</text><text x="88.51 106.29" transform="matrix(1.0225 0 0 1.0139 351.70 50.75)" font-family='"DejaVu Sans", "Liberation Sans", sans-serif' font-weight="bold" font-size="25" fill="#fff">02</text><text transform="matrix(1.7895 0 0 1.0139 479.01 50.75)" font-family='"DejaVu Sans", "Liberation Sans", sans-serif' font-weight="bold" font-size="25" fill="#fff">/</text><text x="141.29 159.06" transform="matrix(1.0225 0 0 1.0139 351.70 50.75)" font-family='"DejaVu Sans", "Liberation Sans", sans-serif' font-weight="bold" font-size="25" fill="#fff">24</text></g><text transform="matrix(1.0818 0 0 0.9792 550.12 49.31)" font-family='"Liberation Sans", "Noto Sans CJK TC", sans-serif' font-weight="500" font-size="24" fill="#fff">收</text><text x="0.19 17.96 35.74 53.51 71.29 88.64 98.09 115.87" transform="matrix(1.0271 0 0 1.0139 584.95 50.75)" font-family='"DejaVu Sans", "Liberation Sans", sans-serif' font-weight="bold" font-size="25" fill="#ff0000">34700.82</text><text x="-0.03" transform="matrix(1.0577 0 0 1.0139 728.94 50.75)" font-family='"DejaVu Sans", "Liberation Sans", sans-serif' font-weight="bold" font-size="25" fill="#fff">s</text><text transform="matrix(1.0795 0 0 0.9792 753.92 49.31)" font-family='"Liberation Sans", "Noto Sans CJK TC", sans-serif' font-weight="500" font-size="24" fill="#fff">點</text><text transform="matrix(1.0591 0 0 1.0227 797.64 49.20)" font-family='"Liberation Sans", "Noto Sans CJK TC", sans-serif' font-weight="500" font-size="24" fill="#fff">量</text><text x="0.19 17.96 35.74 53.51 70.86 80.31 98.09" transform="matrix(1.0236 0 0 1.0139 831.57 50.75)" font-family='"DejaVu Sans", "Liberation Sans", sans-serif' font-weight="bold" font-size="25" fill="#fff">8370.67</text><text transform="matrix(1.0682 0 0 0.9792 958.43 49.31)" font-family='"Liberation Sans", "Noto Sans CJK TC", sans-serif' font-weight="500" font-size="24" fill="#fff">億</text><text x="0.36 21.87 39.64 57.41 74.76 84.22 101.99" transform="matrix(1.0237 0 0 1.0139 1002.13 50.75)" font-family='"DejaVu Sans", "Liberation Sans", sans-serif' font-weight="bold" font-size="25" fill="#fff">+927.56</text><g><text x="1.08 13.94 35.44 52.79 62.24 80.01" transform="matrix(1.0526 0 0 1.0139 1131.64 50.75)" font-family='"DejaVu Sans", "Liberation Sans", sans-serif' font-weight="bold" font-size="25" fill="#fff">(+2.75</text><text transform="matrix(1.3157 0 0 1.0139 1234.61 50.75)" font-family='"DejaVu Sans", "Liberation Sans", sans-serif' font-weight="bold" font-size="25" fill="#fff">%</text><text x="130.45" transform="matrix(1.0526 0 0 1.0139 1131.64 50.75)" font-family='"DejaVu Sans", "Liberation Sans", sans-serif' font-weight="bold" font-size="25" fill="#fff">)</text></g><text x="-0.11 15.1 36.5 53.72 69.12 76.88 92.52 108.17 123.81 139.45 154.72 163.03 178.68" transform="matrix(1.0254 0 0 0.9938 42.30 85.00)" font-family='"DejaVu Sans", "Liberation Sans", sans-serif' font-weight="bold" font-size="22" fill="#ff9a20">SMA5 33511.48</text><text x="-0.11 15.1 36.5 53.72 69.36 84.76 92.52 108.17 123.81 139.45 155.09 170.36 178.68 194.32" transform="matrix(1.0279 0 0 0.9938 296.20 85.00)" font-family='"DejaVu Sans", "Liberation Sans", sans-serif' font-weight="bold" font-size="22" fill="#66ccff">SMA10 32725.08</text><text x="-0.11 15.1 36.5 53.72 69.36 84.76 92.52 108.17 123.81 139.45 155.09 170.36 178.68 194.32" transform="matrix(1.0228 0 0 0.9938 566.75 85.00)" font-family='"DejaVu Sans", "Liberation Sans", sans-serif' font-weight="bold" font-size="22" fill="#ffff00">SMA20 32369.51</text><text x="0.17 15.81 31.45 47.09 62.74" transform="matrix(1.0400 0 0 0.9688 1154.22 88.50)" font-family='"DejaVu Sans", "Liberation Sans", sans-serif' font-weight="bold" font-size="22" fill="#fff">35200</text><text x="0.17 15.81 31.45 47.09 62.74" transform="matrix(1.0400 0 0 0.9688 1154.22 120.74)" font-family='"DejaVu Sans", "Liberation Sans", sans-serif' font-weight="bold" font-size="22" fill="#fff">34925</text><text x="0.17 15.81 31.45 47.09 62.74" transform="matrix(1.0400 0 0 0.9688 1154.22 152.97)" font-family='"DejaVu Sans", "Liberation Sans", sans-serif' font-weight="bold" font-size="22" fill="#fff">34650</text><text x="0.17 15.81 31.45 47.09 62.74" transform="matrix(1.0400 0 0 0.9334 1154.22 185.21)" font-family='"DejaVu Sans", "Liberation Sans", sans-serif' font-weight="bold" font-size="22" fill="#fff">34375</text><text x="0.17 15.81 31.45 47.09 62.74" transform="matrix(1.0400 0 0 0.9215 1154.22 217.44)" font-family='"DejaVu Sans", "Liberation Sans", sans-serif' font-weight="bold" font-size="22" fill="#fff">34100</text><text x="0.17 15.81 31.45 47.09 62.74" transform="matrix(1.0400 0 0 0.9688 1154.22 249.68)" font-family='"DejaVu Sans", "Liberation Sans", sans-serif' font-weight="bold" font-size="22" fill="#fff">33825</text><text x="0.17 15.81 31.45 47.09 62.74" transform="matrix(1.0400 0 0 0.9688 1154.22 281.92)" font-family='"DejaVu Sans", "Liberation Sans", sans-serif' font-weight="bold" font-size="22" fill="#fff">33550</text><text x="0.17 15.81 31.45 47.09 62.74" transform="matrix(1.0400 0 0 0.9362 1154.22 314.15)" font-family='"DejaVu Sans", "Liberation Sans", sans-serif' font-weight="bold" font-size="22" fill="#fff">33275</text><text x="0.17 15.81 31.45 47.09 62.74" transform="matrix(1.0400 0 0 0.9244 1154.22 346.39)" font-family='"DejaVu Sans", "Liberation Sans", sans-serif' font-weight="bold" font-size="22" fill="#fff">33000</text><text x="0.17 15.81 31.45 47.09 62.74" transform="matrix(1.0400 0 0 0.9688 1154.22 378.62)" font-family='"DejaVu Sans", "Liberation Sans", sans-serif' font-weight="bold" font-size="22" fill="#fff">32725</text><text x="0.17 15.81 31.45 47.09 62.74" transform="matrix(1.0400 0 0 0.9688 1154.22 410.86)" font-family='"DejaVu Sans", "Liberation Sans", sans-serif' font-weight="bold" font-size="22" fill="#fff">32450</text><text x="0.17 15.81 31.45 47.09 62.74" transform="matrix(1.0400 0 0 0.9390 1154.22 443.10)" font-family='"DejaVu Sans", "Liberation Sans", sans-serif' font-weight="bold" font-size="22" fill="#fff">32175</text><text x="0.17 15.81 31.45 47.09 62.74" transform="matrix(1.0400 0 0 0.9272 1154.22 475.33)" font-family='"DejaVu Sans", "Liberation Sans", sans-serif' font-weight="bold" font-size="22" fill="#fff">31900</text><text x="0.17 15.81 31.45 47.09 62.74" transform="matrix(1.0400 0 0 0.9688 1154.22 507.57)" font-family='"DejaVu Sans", "Liberation Sans", sans-serif' font-weight="bold" font-size="22" fill="#fff">31625</text><text x="0.17 15.81 31.45 47.09 62.74" transform="matrix(1.0400 0 0 0.9688 1154.22 539.80)" font-family='"DejaVu Sans", "Liberation Sans", sans-serif' font-weight="bold" font-size="22" fill="#fff">31350</text><text x="0.17 15.81 31.45 47.09 62.74" transform="matrix(1.0400 0 0 0.9688 1154.22 572.04)" font-family='"DejaVu Sans", "Liberation Sans", sans-serif' font-weight="bold" font-size="22" fill="#fff">31075</text><text x="0.17 15.81 31.45 47.09 62.74" transform="matrix(1.0400 0 0 0.9300 1154.22 604.28)" font-family='"DejaVu Sans", "Liberation Sans", sans-serif' font-weight="bold" font-size="22" fill="#fff">30800</text><text x="0.17 15.81 31.45 47.09 62.74" transform="matrix(1.0400 0 0 0.9688 1154.22 636.51)" font-family='"DejaVu Sans", "Liberation Sans", sans-serif' font-weight="bold" font-size="22" fill="#fff">30525</text><text x="0.17 15.81 31.45 47.09 62.74" transform="matrix(1.0400 0 0 0.9688 1154.22 668.75)" font-family='"DejaVu Sans", "Liberation Sans", sans-serif' font-weight="bold" font-size="22" fill="#fff">30250</text><text x="0.17 15.81 31.45 47.09 62.74" transform="matrix(1.0400 0 0 0.9688 1154.22 700.98)" font-family='"DejaVu Sans", "Liberation Sans", sans-serif' font-weight="bold" font-size="22" fill="#fff">29975</text><text x="0.17 15.81 31.45 47.09 62.74" transform="matrix(1.0400 0 0 0.9328 1154.22 733.22)" font-family='"DejaVu Sans", "Liberation Sans", sans-serif' font-weight="bold" font-size="22" fill="#fff">29700</text><text x="0.17 15.81 31.45 47.09 62.74" transform="matrix(1.0400 0 0 0.9210 1154.22 765.46)" font-family='"DejaVu Sans", "Liberation Sans", sans-serif' font-weight="bold" font-size="22" fill="#fff">29425</text><text x="0.17 15.81 31.45 47.09 62.74" transform="matrix(1.0400 0 0 0.9688 1154.22 797.69)" font-family='"DejaVu Sans", "Liberation Sans", sans-serif' font-weight="bold" font-size="22" fill="#fff">29150</text><text x="0.17 15.81 31.45 47.09 62.74 78 86.32 101.96" transform="matrix(1.0351 0 0 0.9813 965.73 125.00)" font-family='"DejaVu Sans", "Liberation Sans", sans-serif' font-weight="bold" font-size="22" fill="#fff">34786.42</text><text x="0.17 15.81 31.45 47.09 62.74 78 86.32 101.96" transform="matrix(1.0211 0 0 0.9812 52.31 736.80)" font-family='"DejaVu Sans", "Liberation Sans", sans-serif' font-weight="bold" font-size="22" fill="#fff">29779.70</text><text transform="matrix(1.0410 0 0 0.9495 43.46 845.65)" font-family='"Liberation Sans", "Noto Sans CJK TC", sans-serif' font-weight="500" font-size="21" fill="#fff">成交量</text><text transform="matrix(1.0451 0 0 0.9495 141.45 845.65)" font-family='"Liberation Sans", "Noto Sans CJK TC", sans-serif' font-weight="500" font-size="21" fill="#fff">成交量</text><text x="0.17 15.81 31.45 47.09 62.36 70.68 86.32" transform="matrix(1.0480 0 0 0.9875 213.40 847.90)" font-family='"DejaVu Sans", "Liberation Sans", sans-serif' font-weight="bold" font-size="22" fill="#fff">8370.67</text><text transform="matrix(1.0526 0 0 0.9495 342.95 845.65)" font-family='"Liberation Sans", "Noto Sans CJK TC", sans-serif' font-weight="500" font-size="21" fill="#fff">億</text><text x="-0.52 20.88 38.1 53.5 61.26 76.9 92.55 108.19 123.45 131.77 147.41" transform="matrix(1.0150 0 0 0.9875 399.09 847.90)" font-family='"DejaVu Sans", "Liberation Sans", sans-serif' font-weight="bold" font-size="22" fill="#f47920">MA5 7631.35</text><text transform="matrix(1.0132 0 0 0.9495 588.49 845.65)" font-family='"Liberation Sans", "Noto Sans CJK TC", sans-serif' font-weight="500" font-size="21" fill="#f47920">億</text><text x="-0.52 20.88 38.1 53.74 69.14 76.9 92.55 108.19 123.83 139.1 147.41 163.06" transform="matrix(1.0185 0 0 0.9875 643.48 847.90)" font-family='"DejaVu Sans", "Liberation Sans", sans-serif' font-weight="bold" font-size="22" fill="#ffff00">MA10 7526.14</text><text transform="matrix(1.0526 0 0 0.9495 848.95 845.65)" font-family='"Liberation Sans", "Noto Sans CJK TC", sans-serif' font-weight="500" font-size="21" fill="#ffff00">億</text><text x="0.17 15.81 31.45 47.09" transform="matrix(1.0508 0 0 0.9625 1153.90 1023.20)" font-family='"DejaVu Sans", "Liberation Sans", sans-serif' font-weight="bold" font-size="22" fill="#fff">5000</text><g><text x="-0 13.99 27.98 41.97" transform="matrix(1.0163 0 0 0.9844 51.63 1241.75)" font-family='"DejaVu Sans", "Liberation Sans", sans-serif' font-weight="normal" font-size="22" fill="#ffff00">2026</text><text transform="matrix(1.3212 0 0 0.9844 108.70 1241.75)" font-family='"DejaVu Sans", "Liberation Sans", sans-serif' font-weight="normal" font-size="22" fill="#ffff00">/</text><text x="65.95 79.95" transform="matrix(1.0163 0 0 0.9844 51.63 1241.75)" font-family='"DejaVu Sans", "Liberation Sans", sans-serif' font-weight="normal" font-size="22" fill="#ffff00">01</text><text transform="matrix(1.3212 0 0 0.9844 147.28 1241.75)" font-family='"DejaVu Sans", "Liberation Sans", sans-serif' font-weight="normal" font-size="22" fill="#ffff00">/</text><text x="103.93 117.92" transform="matrix(1.0163 0 0 0.9844 51.63 1241.75)" font-family='"DejaVu Sans", "Liberation Sans", sans-serif' font-weight="normal" font-size="22" fill="#ffff00">05</text></g><text x="-0 13.99" transform="matrix(1.0540 0 0 0.9844 712.60 1241.75)" font-family='"DejaVu Sans", "Liberation Sans", sans-serif' font-weight="normal" font-size="22" fill="#ffff00">02</text><text transform="matrix(0.9858 0 0 1.0150 1329.23 18.77)" font-family='"Liberation Sans", "Noto Sans CJK TC", sans-serif' font-weight="400" font-size="16" fill="#ffff00">台積電</text><text transform="matrix(1.0081 0 0 1.0150 1381.39 18.77)" font-family='"Liberation Sans", "Noto Sans CJK TC", sans-serif' font-weight="400" font-size="16" fill="#ffff00">技術分析</text><text transform="matrix(1.0890 0 0 0.9792 1298.38 49.31)" font-family='"Liberation Sans", "Noto Sans CJK TC", sans-serif' font-weight="500" font-size="24" fill="#fff">台積電</text><text transform="matrix(1.1254 0 0 1.0509 1377.57 48.67)" font-family='"Liberation Sans", "Noto Sans CJK TC", sans-serif' font-weight="500" font-size="24" fill="#fff">(2330)</text><text transform="matrix(1.0976 0 0 0.9792 1504.91 49.31)" font-family='"Liberation Sans", "Noto Sans CJK TC", sans-serif' font-weight="500" font-size="24" fill="#fff">日線圖</text><g><text x="0.19 17.96 35.74 53.51" transform="matrix(1.0277 0 0 1.0139 1630.14 50.75)" font-family='"DejaVu Sans", "Liberation Sans", sans-serif' font-weight="bold" font-size="25" fill="#fff">2026</text><text transform="matrix(1.7986 0 0 1.0139 1703.86 50.75)" font-family='"DejaVu Sans", "Liberation Sans", sans-serif' font-weight="bold" font-size="25" fill="#fff">/</text><text x="88.51 106.29" transform="matrix(1.0277 0 0 1.0139 1630.14 50.75)" font-family='"DejaVu Sans", "Liberation Sans", sans-serif' font-weight="bold" font-size="25" fill="#fff">02</text><text transform="matrix(1.7986 0 0 1.0139 1758.09 50.75)" font-family='"DejaVu Sans", "Liberation Sans", sans-serif' font-weight="bold" font-size="25" fill="#fff">/</text><text x="141.29 159.06" transform="matrix(1.0277 0 0 1.0139 1630.14 50.75)" font-family='"DejaVu Sans", "Liberation Sans", sans-serif' font-weight="bold" font-size="25" fill="#fff">24</text></g><text transform="matrix(1.0455 0 0 0.9792 1829.65 49.31)" font-family='"Liberation Sans", "Noto Sans CJK TC", sans-serif' font-weight="500" font-size="24" fill="#fff">收</text><text x="0.19 17.96 35.74 53.51 70.86 80.31 98.09" transform="matrix(1.0243 0 0 1.0139 1863.13 50.75)" font-family='"DejaVu Sans", "Liberation Sans", sans-serif' font-weight="bold" font-size="25" fill="#ff0000">1965.00</text><text x="-0.03" transform="matrix(1.0538 0 0 1.0139 1989.55 50.75)" font-family='"DejaVu Sans", "Liberation Sans", sans-serif' font-weight="bold" font-size="25" fill="#fff">s</text><text transform="matrix(1.0227 0 0 1.0238 2015.08 49.20)" font-family='"Liberation Sans", "Noto Sans CJK TC", sans-serif' font-weight="500" font-size="24" fill="#fff">元</text><text transform="matrix(1.0455 0 0 1.0227 2058.75 49.20)" font-family='"Liberation Sans", "Noto Sans CJK TC", sans-serif' font-weight="500" font-size="24" fill="#fff">量</text><text x="0.19 17.96 35.74 53.51 71.29" transform="matrix(1.0212 0 0 1.0139 2092.72 50.75)" font-family='"DejaVu Sans", "Liberation Sans", sans-serif' font-weight="bold" font-size="25" fill="#fff">40868</text><text transform="matrix(1.0809 0 0 1.0227 2191.84 49.20)" font-family='"Liberation Sans", "Noto Sans CJK TC", sans-serif' font-weight="500" font-size="24" fill="#fff">張</text><text x="0.36 21.87 39.64 56.99 66.44 84.22" transform="matrix(1.0365 0 0 1.0139 2235.29 50.75)" font-family='"DejaVu Sans", "Liberation Sans", sans-serif' font-weight="bold" font-size="25" fill="#fff">+65.00</text><g><text x="1.08 13.94 35.44 52.79 62.24 80.01" transform="matrix(1.0431 0 0 1.0139 2347.97 50.75)" font-family='"DejaVu Sans", "Liberation Sans", sans-serif' font-weight="bold" font-size="25" fill="#fff">(+3.42</text><text transform="matrix(1.3038 0 0 1.0139 2450.01 50.75)" font-family='"DejaVu Sans", "Liberation Sans", sans-serif' font-weight="bold" font-size="25" fill="#fff">%</text><text x="130.45" transform="matrix(1.0431 0 0 1.0139 2347.97 50.75)" font-family='"DejaVu Sans", "Liberation Sans", sans-serif' font-weight="bold" font-size="25" fill="#fff">)</text></g><text x="-0.11 15.1 36.5 53.72 69.12 76.88 92.52 108.17 123.81 139.07 147.39 163.03" transform="matrix(1.0256 0 0 0.9938 1302.21 85.00)" font-family='"DejaVu Sans", "Liberation Sans", sans-serif' font-weight="bold" font-size="22" fill="#ff9a20">SMA5 1895.00</text><text x="-0.11 15.1 36.5 53.72 69.36 84.76 92.52 108.17 123.81 139.45 154.72 163.03 178.68" transform="matrix(1.0288 0 0 0.9938 1539.44 85.00)" font-family='"DejaVu Sans", "Liberation Sans", sans-serif' font-weight="bold" font-size="22" fill="#66ccff">SMA10 1837.00</text><text x="-0.11 15.1 36.5 53.72 69.36 84.76 92.52 108.17 123.81 139.45 154.72 163.03 178.68" transform="matrix(1.0267 0 0 0.9938 1794.15 85.00)" font-family='"DejaVu Sans", "Liberation Sans", sans-serif' font-weight="bold" font-size="22" fill="#ffff00">SMA20 1805.50</text><text x="0.17 15.81 31.45 47.09" transform="matrix(1.0292 0 0 0.9750 2415.02 104.00)" font-family='"DejaVu Sans", "Liberation Sans", sans-serif' font-weight="bold" font-size="22" fill="#fff">2050</text><text x="0.17 15.81 31.45 47.09" transform="matrix(1.0292 0 0 0.9750 2415.02 153.58)" font-family='"DejaVu Sans", "Liberation Sans", sans-serif' font-weight="bold" font-size="22" fill="#fff">2000</text><text x="0.17 15.81 31.45 47.09" transform="matrix(1.0386 0 0 0.9190 2414.44 203.16)" font-family='"DejaVu Sans", "Liberation Sans", sans-serif' font-weight="bold" font-size="22" fill="#fff">1950</text><text x="0.17 15.81 31.45 47.09" transform="matrix(1.0386 0 0 0.9750 2414.44 252.74)" font-family='"DejaVu Sans", "Liberation Sans", sans-serif' font-weight="bold" font-size="22" fill="#fff">1900</text><text x="0.17 15.81 31.45 47.09" transform="matrix(1.0386 0 0 0.9390 2414.44 302.32)" font-family='"DejaVu Sans", "Liberation Sans", sans-serif' font-weight="bold" font-size="22" fill="#fff">1850</text><text x="0.17 15.81 31.45 47.09" transform="matrix(1.0386 0 0 0.9750 2414.44 351.90)" font-family='"DejaVu Sans", "Liberation Sans", sans-serif' font-weight="bold" font-size="22" fill="#fff">1800</text><text x="0.17 15.81 31.45 47.09" transform="matrix(1.0386 0 0 0.9310 2414.44 401.48)" font-family='"DejaVu Sans", "Liberation Sans", sans-serif' font-weight="bold" font-size="22" fill="#fff">1750</text><text x="0.17 15.81 31.45 47.09" transform="matrix(1.0386 0 0 0.9750 2414.44 451.06)" font-family='"DejaVu Sans", "Liberation Sans", sans-serif' font-weight="bold" font-size="22" fill="#fff">1700</text><text x="0.17 15.81 31.45 47.09" transform="matrix(1.0386 0 0 0.9750 2414.44 500.64)" font-family='"DejaVu Sans", "Liberation Sans", sans-serif' font-weight="bold" font-size="22" fill="#fff">1650</text><text x="0.17 15.81 31.45 47.09" transform="matrix(1.0386 0 0 0.9130 2414.44 550.22)" font-family='"DejaVu Sans", "Liberation Sans", sans-serif' font-weight="bold" font-size="22" fill="#fff">1600</text><text x="0.17 15.81 31.45 47.09" transform="matrix(1.0386 0 0 0.9750 2414.44 599.80)" font-family='"DejaVu Sans", "Liberation Sans", sans-serif' font-weight="bold" font-size="22" fill="#fff">1550</text><text x="0.17 15.81 31.45 47.09" transform="matrix(1.0386 0 0 0.9360 2414.44 649.38)" font-family='"DejaVu Sans", "Liberation Sans", sans-serif' font-weight="bold" font-size="22" fill="#fff">1500</text><text x="0.17 15.81 31.45 47.09" transform="matrix(1.0386 0 0 0.9750 2414.44 698.96)" font-family='"DejaVu Sans", "Liberation Sans", sans-serif' font-weight="bold" font-size="22" fill="#fff">1450</text><text x="0.17 15.81 31.45 47.09" transform="matrix(1.0386 0 0 0.9750 2414.44 748.54)" font-family='"DejaVu Sans", "Liberation Sans", sans-serif' font-weight="bold" font-size="22" fill="#fff">1400</text><text x="0.17 15.81 31.45 47.09" transform="matrix(1.0386 0 0 0.9750 2414.44 798.12)" font-family='"DejaVu Sans", "Liberation Sans", sans-serif' font-weight="bold" font-size="22" fill="#fff">1350</text><text x="0.17 15.81 31.45 47.09 62.36 70.68 86.32" transform="matrix(1.0269 0 0 0.9875 2300.72 165.00)" font-family='"DejaVu Sans", "Liberation Sans", sans-serif' font-weight="bold" font-size="22" fill="#fff">1975.00</text><text x="0.17 15.81 31.45 47.09 62.36 70.68 86.32" transform="matrix(1.0269 0 0 0.9875 1388.72 785.80)" font-family='"DejaVu Sans", "Liberation Sans", sans-serif' font-weight="bold" font-size="22" fill="#fff">1375.00</text><text transform="matrix(1.0451 0 0 0.9495 1303.20 845.65)" font-family='"Liberation Sans", "Noto Sans CJK TC", sans-serif' font-weight="500" font-size="21" fill="#fff">成交量</text><text transform="matrix(1.0451 0 0 0.9495 1401.20 845.65)" font-family='"Liberation Sans", "Noto Sans CJK TC", sans-serif' font-weight="500" font-size="21" fill="#fff">成交量</text><text x="0.17 15.81 31.45 47.09 62.74" transform="matrix(1.0329 0 0 0.9875 1474.47 847.90)" font-family='"DejaVu Sans", "Liberation Sans", sans-serif' font-weight="bold" font-size="22" fill="#fff">40868</text><text transform="matrix(1.0526 0 0 0.9970 1578.70 845.51)" font-family='"Liberation Sans", "Noto Sans CJK TC", sans-serif' font-weight="500" font-size="21" fill="#fff">張</text><text x="-0.52 20.88 38.1 53.5 61.26 76.9 92.55 108.19 123.83" transform="matrix(1.0270 0 0 0.9875 1633.62 847.90)" font-family='"DejaVu Sans", "Liberation Sans", sans-serif' font-weight="bold" font-size="22" fill="#f47920">MA5 50469</text><text transform="matrix(1.0526 0 0 0.9970 1799.95 845.51)" font-family='"Liberation Sans", "Noto Sans CJK TC", sans-serif' font-weight="500" font-size="21" fill="#f47920">張</text><text x="-0.52 20.88 38.1 53.74 69.14 76.9 92.55 108.19 123.83 139.47" transform="matrix(1.0263 0 0 0.9875 1854.97 847.90)" font-family='"DejaVu Sans", "Liberation Sans", sans-serif' font-weight="bold" font-size="22" fill="#ffff00">MA10 41062</text><text transform="matrix(1.0395 0 0 0.9970 2037.21 845.51)" font-family='"Liberation Sans", "Noto Sans CJK TC", sans-serif' font-weight="500" font-size="21" fill="#ffff00">張</text><text x="0.17 15.81 31.24" transform="matrix(1.0160 0 0 1.0125 2413.47 1023.20)" font-family='"DejaVu Sans", "Liberation Sans", sans-serif' font-weight="bold" font-size="22" fill="#fff">50K</text><g><text x="-0 13.99 27.98 41.97" transform="matrix(1.0039 0 0 0.9844 1305.50 1241.75)" font-family='"DejaVu Sans", "Liberation Sans", sans-serif' font-weight="normal" font-size="22" fill="#ffff00">2025</text><text transform="matrix(1.3050 0 0 0.9844 1361.86 1241.75)" font-family='"DejaVu Sans", "Liberation Sans", sans-serif' font-weight="normal" font-size="22" fill="#ffff00">/</text><text x="65.95 79.95" transform="matrix(1.0039 0 0 0.9844 1305.50 1241.75)" font-family='"DejaVu Sans", "Liberation Sans", sans-serif' font-weight="normal" font-size="22" fill="#ffff00">11</text><text transform="matrix(1.3050 0 0 0.9844 1399.98 1241.75)" font-family='"DejaVu Sans", "Liberation Sans", sans-serif' font-weight="normal" font-size="22" fill="#ffff00">/</text><text x="103.93 117.92" transform="matrix(1.0039 0 0 0.9844 1305.50 1241.75)" font-family='"DejaVu Sans", "Liberation Sans", sans-serif' font-weight="normal" font-size="22" fill="#ffff00">12</text></g><text x="-0 13.99" transform="matrix(1.0667 0 0 0.9844 1504.52 1241.75)" font-family='"DejaVu Sans", "Liberation Sans", sans-serif' font-weight="normal" font-size="22" fill="#ffff00">12</text><g><text x="0.17 15.81 31.45 47.09" transform="matrix(1.0205 0 0 0.9844 1818.31 1241.75)" font-family='"DejaVu Sans", "Liberation Sans", sans-serif' font-weight="bold" font-size="22" fill="#ffff00">2026</text><text transform="matrix(1.7858 0 0 0.9844 1882.72 1241.75)" font-family='"DejaVu Sans", "Liberation Sans", sans-serif' font-weight="bold" font-size="22" fill="#ffff00">/</text><text x="77.89 93.54" transform="matrix(1.0205 0 0 0.9844 1818.31 1241.75)" font-family='"DejaVu Sans", "Liberation Sans", sans-serif' font-weight="bold" font-size="22" fill="#ffff00">01</text></g><text x="-0 13.99" transform="matrix(1.0540 0 0 0.9844 2192.60 1241.75)" font-family='"DejaVu Sans", "Liberation Sans", sans-serif' font-weight="normal" font-size="22" fill="#ffff00">02</text><text transform="matrix(1.2429 0 0 0.9622 7.71 60.62)" font-family='"Liberation Sans", "Noto Sans CJK TC", sans-serif' font-weight="400" font-size="18" fill="#ffff00">台</text><text transform="matrix(1.0875 0 0 0.9000 9.11 78.49)" font-family='"Liberation Sans", "Noto Sans CJK TC", sans-serif' font-weight="400" font-size="18" fill="#ffff00">積</text><text transform="matrix(1.0875 0 0 0.9625 9.11 96.28)" font-family='"Liberation Sans", "Noto Sans CJK TC", sans-serif' font-weight="400" font-size="18" fill="#ffff00">電</text><text transform="matrix(1.1475 0 0 0.9000 9.05 113.99)" font-family='"Liberation Sans", "Noto Sans CJK TC", sans-serif' font-weight="400" font-size="18" fill="#ffff00">加</text><text transform="matrix(1.0875 0 0 0.9000 9.11 131.74)" font-family='"Liberation Sans", "Noto Sans CJK TC", sans-serif' font-weight="400" font-size="18" fill="#ffff00">權</text><text transform="matrix(1.1175 0 0 0.9000 9.08 149.49)" font-family='"Liberation Sans", "Noto Sans CJK TC", sans-serif' font-weight="400" font-size="18" fill="#ffff00">指</text><text transform="matrix(1.0875 0 0 0.9622 9.11 168.24)" font-family='"Liberation Sans", "Noto Sans CJK TC", sans-serif' font-weight="400" font-size="18" fill="#ffff00">數</text></g></svg></body></html>
